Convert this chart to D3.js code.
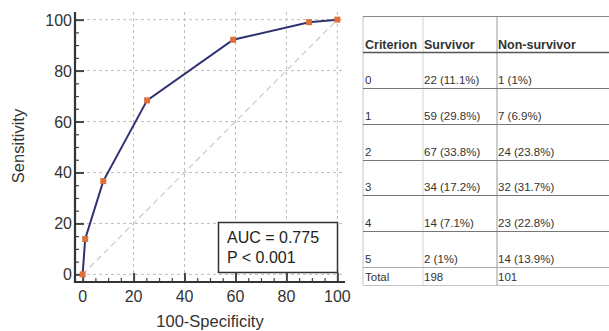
<!DOCTYPE html>
<html>
<head>
<meta charset="utf-8">
<script src="https://cdn.jsdelivr.net/npm/d3@7"></script>
<style>
  body { margin: 0; background: #fff; }
  svg { display: block; }
</style>
</head>
<body>
<script>
// ROC points (100-specificity, sensitivity)
var fpr  = [0, 1, 8.1, 25.3, 59.1, 88.9, 100];
var sens = [0, 13.9, 36.6, 68.3, 92.1, 99, 100];
var majorTicks = [0, 20, 40, 60, 80, 100];
var aucText = ["AUC = 0.775", "P < 0.001"];

// table
var headers = ["Criterion", "Survivor", "Non-survivor"];
var criteria = ["0", "1", "2", "3", "4", "5"];
var survivor = ["22 (11.1%)", "59 (29.8%)", "67 (33.8%)", "34 (17.2%)", "14 (7.1%)", "2 (1%)"];
var nonSurvivor = ["1 (1%)", "7 (6.9%)", "24 (23.8%)", "32 (31.7%)", "23 (22.8%)", "14 (13.9%)"];
var totals = ["Total", "198", "101"];

var W = 609, H = 331;
var svg = d3.select("body").append("svg")
  .attr("width", W)
  .attr("height", H)
  .style("font-family", "'Liberation Sans', Arial, sans-serif");

// ---------- ROC plot ----------
var xScale = d3.scaleLinear().domain([-3, 103]).range([75, 345]);
var yScale = d3.scaleLinear().domain([-3, 103]).range([282, 12]);

var grid = svg.append("g")
  .attr("stroke", "#bdbdbd")
  .attr("stroke-width", 1)
  .attr("stroke-dasharray", "3,3");
grid.selectAll("line.v").data(majorTicks.filter(d => d > 0)).enter().append("line")
  .attr("x1", d => xScale(d)).attr("x2", d => xScale(d))
  .attr("y1", yScale(103)).attr("y2", yScale(-3));
grid.selectAll("line.h").data(majorTicks).enter().append("line")
  .attr("x1", xScale(-3)).attr("x2", xScale(103))
  .attr("y1", d => yScale(d)).attr("y2", d => yScale(d));

// diagonal reference
svg.append("line")
  .attr("x1", xScale(0)).attr("y1", yScale(0))
  .attr("x2", xScale(100)).attr("y2", yScale(100))
  .attr("stroke", "#c8c8c8")
  .attr("stroke-width", 1.2)
  .attr("stroke-dasharray", "6,4");

// axes (ticks pointing inward)
var yAxis = svg.append("g").attr("transform", "translate(" + xScale(-3) + ",0)")
  .call(d3.axisRight(yScale).tickValues(d3.range(0, 101, 5)).tickSize(4).tickFormat(""));
var xAxis = svg.append("g").attr("transform", "translate(0," + yScale(-3) + ")")
  .call(d3.axisTop(xScale).tickValues(d3.range(0, 101, 5)).tickSize(4).tickFormat(""));
[yAxis, xAxis].forEach(function(a) {
  a.select(".domain").remove();
  a.selectAll(".tick line").attr("stroke", "#444").attr("stroke-width", 1.2)
    .filter(d => d % 20 === 0)
    .attr("stroke-width", 2)
    .each(function() {
      var el = d3.select(this);
      if (el.attr("x2") !== null && +el.attr("x2") !== 0) el.attr("x2", 9);
      if (el.attr("y2") !== null && +el.attr("y2") !== 0) el.attr("y2", -9);
    });
});

svg.append("line")
  .attr("x1", xScale(-3)).attr("x2", xScale(-3))
  .attr("y1", yScale(103)).attr("y2", yScale(-3) + 1)
  .attr("stroke", "#333").attr("stroke-width", 2.2);
svg.append("line")
  .attr("x1", xScale(-3) - 1).attr("x2", xScale(103))
  .attr("y1", yScale(-3)).attr("y2", yScale(-3))
  .attr("stroke", "#333").attr("stroke-width", 2.2);

// tick labels
svg.append("g").selectAll("text").data(majorTicks).enter().append("text")
  .attr("x", 72).attr("y", d => yScale(d) + 6)
  .attr("text-anchor", "end")
  .attr("font-size", 16).attr("fill", "#333")
  .text(d => d);
svg.append("g").selectAll("text").data(majorTicks).enter().append("text")
  .attr("x", d => xScale(d)).attr("y", 302)
  .attr("text-anchor", "middle")
  .attr("font-size", 16).attr("fill", "#333")
  .text(d => d);

// axis titles
svg.append("text")
  .attr("x", xScale(50)).attr("y", 327)
  .attr("text-anchor", "middle")
  .attr("font-size", 16.5).attr("fill", "#333")
  .text("100-Specificity");
svg.append("text")
  .attr("transform", "translate(24,146) rotate(-90)")
  .attr("text-anchor", "middle")
  .attr("font-size", 16.5).attr("fill", "#333")
  .text("Sensitivity");

// ROC line + markers
var pts = fpr.map((d, i) => ({x: d, y: sens[i]}));
svg.append("path")
  .datum(pts)
  .attr("fill", "none")
  .attr("stroke", "#2e3272")
  .attr("stroke-width", 2)
  .attr("d", d3.line().x(d => xScale(d.x)).y(d => yScale(d.y)));
svg.append("g").selectAll("rect").data(pts).enter().append("rect")
  .attr("x", d => xScale(d.x) - 3)
  .attr("y", d => yScale(d.y) - 3)
  .attr("width", 6).attr("height", 6)
  .attr("fill", "#e0703a");

// AUC box
svg.append("rect")
  .attr("x", 218.5).attr("y", 222.5)
  .attr("width", 119).attr("height", 50)
  .attr("fill", "#fff")
  .attr("stroke", "#333").attr("stroke-width", 1.5);
svg.append("g").selectAll("text").data(aucText).enter().append("text")
  .attr("x", 227).attr("y", (d, i) => 243 + i * 20)
  .attr("font-size", 16).attr("fill", "#222")
  .text(d => d);

// ---------- table ----------
var tbl = svg.append("g").style("font-family", "'Liberation Sans', Arial, sans-serif");
var colX = [365, 424, 498];
var rowBottom = d3.scaleLinear().domain([0, 6]).range([52, 267]);
var left = 363, right = W;

// vertical lines
tbl.append("line").attr("x1", left).attr("x2", left).attr("y1", 16).attr("y2", 285)
  .attr("stroke", "#c4c4c4").attr("stroke-width", 1);
tbl.append("line").attr("x1", 423).attr("x2", 423).attr("y1", 16).attr("y2", 285)
  .attr("stroke", "#d4d4d4").attr("stroke-width", 1);
tbl.append("line").attr("x1", 497).attr("x2", 497).attr("y1", 16).attr("y2", 285)
  .attr("stroke", "#999").attr("stroke-width", 1);

// horizontal lines
tbl.append("line").attr("x1", left).attr("x2", right).attr("y1", 16.5).attr("y2", 16.5)
  .attr("stroke", "#888").attr("stroke-width", 1);
tbl.selectAll("line.row").data(d3.range(0, 7)).enter().append("line")
  .attr("x1", left).attr("x2", right)
  .attr("y1", d => Math.round(rowBottom(d)) + 0.5)
  .attr("y2", d => Math.round(rowBottom(d)) + 0.5)
  .attr("stroke", d => d === 0 ? "#555" : (d === 6 ? "#aaa" : "#777"))
  .attr("stroke-width", d => d === 0 ? 1.4 : 1);
tbl.append("line").attr("x1", left).attr("x2", right).attr("y1", 285.5).attr("y2", 285.5)
  .attr("stroke", "#c4c4c4").attr("stroke-width", 1);

// header
tbl.selectAll("text.h").data(headers).enter().append("text")
  .attr("x", (d, i) => colX[i]).attr("y", 49)
  .attr("font-size", 12.5).attr("font-weight", "bold").attr("fill", "#333")
  .text(d => d);

// body rows
criteria.forEach(function(c, r) {
  var y = rowBottom(r + 1) - 4;
  [c, survivor[r], nonSurvivor[r]].forEach(function(t, i) {
    tbl.append("text")
      .attr("x", colX[i]).attr("y", y)
      .attr("font-size", 11.5).attr("fill", "#333")
      .text(t);
  });
});
totals.forEach(function(t, i) {
  tbl.append("text")
    .attr("x", colX[i]).attr("y", 281)
    .attr("font-size", 11.5).attr("fill", "#333")
    .text(t);
});
</script>
</body>
</html>
